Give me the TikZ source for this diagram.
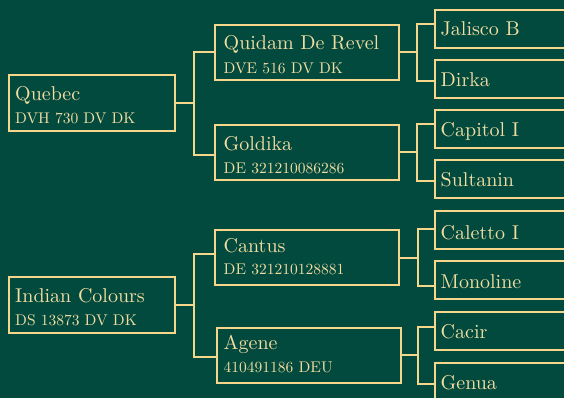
\documentclass[tikz,border=0pt]{standalone}
\usepackage{fontspec}
\setmainfont{lmroman10-regular.otf}
\definecolor{bg}{HTML}{024A3D}
\definecolor{gold}{HTML}{F5D68A}
\definecolor{cream}{HTML}{F3DDA2}
\begin{document}
\begin{tikzpicture}[x=1pt,y=-1pt,
  box/.style={draw=gold, line width=2pt, anchor=north west, inner sep=0pt},
  gA/.style={box, minimum width=166pt, minimum height=56pt},
  gB/.style={box, minimum width=184pt, minimum height=55pt},
  gC/.style={box, minimum width=200pt, minimum height=38pt},
  ttl/.style={anchor=base west, inner sep=0pt, text=cream, font=\fontsize{20}{24}\selectfont},
  sub/.style={anchor=base west, inner sep=0pt, text=cream, font=\fontsize{15.5}{18}\selectfont},
  conn/.style={draw=gold, line width=2pt}]
\useasboundingbox (0,0) rectangle (564,398);
\clip (0,0) rectangle (564,398);
\fill[bg] (0,0) rectangle (564,398);
% generation 1
\node[gA] (quebec) at (8,74) {};
\node[gA] (indian) at (8,276) {};
% generation 2
\node[gB] (quidam) at (214,24) {};
\node[gB] (goldika) at (214,124) {};
\node[gB] (cantus) at (214,229) {};
\node[gB] (agene) at (216,326.5) {};
% generation 3
\node[gC] (jalisco) at (434,9.5) {};
\node[gC] (dirka) at (434,59) {};
\node[gC] (capitol) at (434,109) {};
\node[gC] (sultanin) at (434,159) {};
\node[gC] (caletto) at (434,210) {};
\node[gC] (monoline) at (434,260) {};
\node[gC] (cacir) at (434,310.5) {};
\node[gC] (genua) at (434,361.5) {};
% texts
\node[ttl] (t-quebec) at (15,101) {Quebec};
\node[sub] (s-quebec) at (15,124) {DVH 730 DV DK};
\node[ttl] (t-indian) at (15,302) {Indian Colours};
\node[sub] (s-indian) at (15,325.3) {DS 13873 DV DK};
\node[ttl] (t-quidam) at (223.5,50) {Quidam De Revel};
\node[sub] (s-quidam) at (223.5,73.3) {DVE 516 DV DK};
\node[ttl] (t-goldika) at (223.5,150) {Goldika};
\node[sub] (s-goldika) at (223.5,174) {DE 321210086286};
\node[ttl] (t-cantus) at (223.5,252) {Cantus};
\node[sub] (s-cantus) at (223.5,274.3) {DE 321210128881};
\node[ttl] (t-agene) at (223.5,349.5) {Agene};
\node[sub] (s-agene) at (223.5,372.7) {410491186 DEU};
\node[ttl] (t-jalisco) at (440.5,36) {Jalisco B};
\node[ttl] (t-dirka) at (440.5,86.7) {Dirka};
\node[ttl] (t-capitol) at (440.5,136.7) {Capitol I};
\node[ttl] (t-sultanin) at (440.5,186.7) {Sultanin};
\node[ttl] (t-caletto) at (440.5,239) {Caletto I};
\node[ttl] (t-monoline) at (440.5,288.3) {Monoline};
\node[ttl] (t-cacir) at (440.5,338) {Cacir};
\node[ttl] (t-genua) at (440.5,389.3) {Genua};
% connectors gen1 -> gen2
\draw[conn] (quebec.east) -- ++(18,0) coordinate (j1);
\draw[conn] (quidam.west) -| (j1) |- ([yshift=-3pt]goldika.west);
\draw[conn] (indian.east) -- ++(18,0) coordinate (j2);
\draw[conn] ([yshift=4pt]cantus.west) -| (j2) |- ([yshift=-2pt]agene.west);
% connectors gen2 -> gen3
\draw[conn] (quidam.east) -- ++(17,0) coordinate (k1);
\draw[conn] (jalisco.west |- quidam.north) -| (k1) |- (dirka.west |- quidam.south);
\draw[conn] (goldika.east) -- ++(17,0) coordinate (k2);
\draw[conn] (capitol.west |- goldika.north) -| (k2) |- (sultanin.west |- goldika.south);
\draw[conn] (cantus.east) -- ++(17.5,0) coordinate (k3);
\draw[conn] (caletto.west |- cantus.north) -| (k3) |- (monoline.west |- cantus.south);
\draw[conn] (agene.east) -- ++(15.5,0) coordinate (k4);
\draw[conn] (cacir.west |- agene.north) -| (k4) |- (genua.west |- agene.south);
\end{tikzpicture}
\end{document}
